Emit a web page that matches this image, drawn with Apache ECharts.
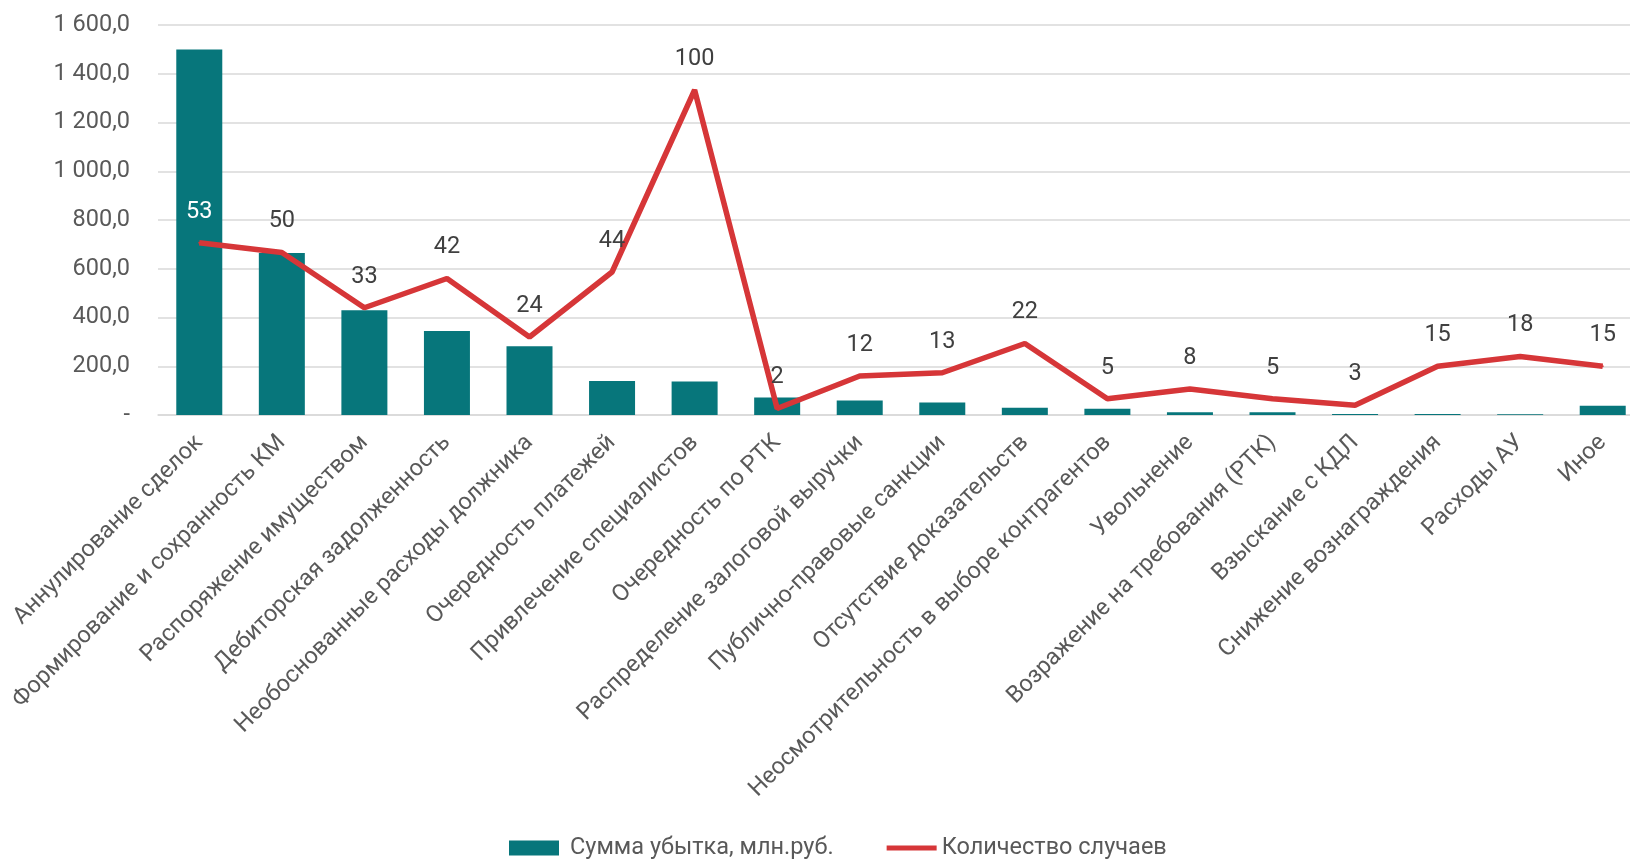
<!DOCTYPE html>
<html><head><meta charset="utf-8">
<script src="https://cdn.jsdelivr.net/npm/echarts@6/dist/echarts.min.js"></script>
<style>html,body{margin:0;padding:0;background:#fff;overflow:hidden}#c{width:1644px;height:860px}</style>
</head><body><div id="c"></div>
<script>
const categories = ["Аннулирование сделок","Формирование и сохранность КМ","Распоряжение имуществом","Дебиторская задолженность","Необоснованные расходы должника","Очередность платежей","Привлечение специалистов","Очередность по РТК","Распределение залоговой выручки","Публично-правовые санкции","Отсутствие доказательств","Неосмотрительность в выборе контрагентов","Увольнение","Возражение на требования (РТК)","Взыскание с КДЛ","Снижение вознаграждения","Расходы АУ","Иное"];
const lossAmount = [1500, 665, 430, 345, 282, 140, 137, 72, 59, 51, 30, 26, 11, 11, 4, 4, 3, 38];
const caseCount = [53, 50, 33, 42, 24, 44, 100, 2, 12, 13, 22, 5, 8, 5, 3, 15, 18, 15];
const leftTicks = {min: 0, max: 1600, interval: 200};
const seriesNames = ["Сумма убытка, млн.руб.", "Количество случаев"];

function fmt(v){
  if (v === 0) return '-';
  const s = Math.round(v).toString().replace(/\B(?=(\d{3})+(?!\d))/g, ' ');
  return s + ',0';
}
const FONT = 'Roboto';
const FS = 23.5;
const RED = '#D63638';
const chart = echarts.init(document.getElementById('c'));
chart.setOption({
  animation: false,
  textStyle: {fontFamily: FONT},
  grid: {left: 158, right: 0, top: 25, bottom: 445, containLabel: false},
  legend: {
    left: 509, top: 836, padding: 0, itemWidth: 50, itemHeight: 15, itemGap: 53,
    textStyle: {fontFamily: FONT, fontSize: FS, color: '#595959'},
    data: [
      {name: seriesNames[0], icon: 'rect', textStyle: {padding: [0,0,0,6]}},
      {name: seriesNames[1], icon: 'path://M0,0H54V5.5H0Z', itemStyle: {color: RED, opacity: 1}, textStyle: {padding: [0,0,0,0]}}
    ]
  },
  xAxis: {
    type: 'category', data: categories,
    axisTick: {show: false},
    axisLine: {lineStyle: {color: '#d9d9d9', width: 1.5}},
    axisLabel: {rotate: 45, interval: 0, margin: 24, fontFamily: FONT, fontSize: FS, color: '#595959'}
  },
  yAxis: [
    {type: 'value', min: leftTicks.min, max: leftTicks.max, interval: leftTicks.interval,
     axisLine: {show: false}, axisTick: {show: false},
     splitLine: {lineStyle: {color: '#d9d9d9', width: 1.5}},
     axisLabel: {formatter: fmt, margin: 28, fontFamily: FONT, fontSize: FS, color: '#595959'}},
    {type: 'value', min: 0, max: 120, show: false, splitLine: {show: false}}
  ],
  series: [
    {name: seriesNames[0], type: 'bar', data: lossAmount, barWidth: 46,
     itemStyle: {color: '#07767B'}},
    {name: seriesNames[1], type: 'line', yAxisIndex: 1, symbol: 'circle', symbolSize: 2, showSymbol: true,
     data: caseCount.map((v, i) => i === 0 ? {value: v, label: {color: '#ffffff'}} : v),
     lineStyle: {color: RED, width: 5.5},
     itemStyle: {color: RED},
     labelLayout: {hideOverlap: false},
     label: {show: true, position: 'top', distance: 18, fontFamily: FONT, fontSize: FS, color: '#404040'}}
  ]
});
</script></body></html>
